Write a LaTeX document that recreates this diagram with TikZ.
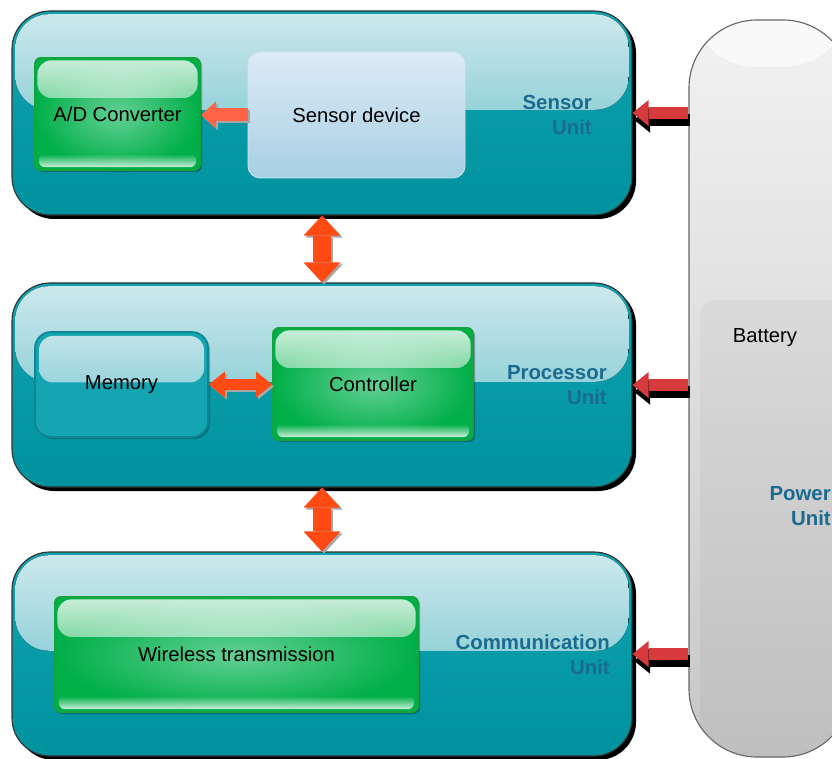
\documentclass[tikz,border=0pt]{standalone}
\usepackage{fontspec}
\setmainfont{Liberation Sans}
\usepackage{xcolor}
\usepackage{tikz}
\usetikzlibrary{positioning,shapes,arrows.meta,shadows,fadings}

\definecolor{unitTop}{HTML}{CDE9ED}
\definecolor{unitGloss}{HTML}{5CBBC5}
\definecolor{unitBase}{HTML}{0FA2AF}
\definecolor{unitBottom}{HTML}{00939F}
\definecolor{unitText}{HTML}{1A6B8E}
\definecolor{blockGreen}{HTML}{00AF48}
\definecolor{blockLight}{HTML}{63D095}
\definecolor{blockEdge}{HTML}{14A33C}
\definecolor{memTop}{HTML}{C3E5EA}
\definecolor{memGloss}{HTML}{6EC4CD}
\definecolor{memBase}{HTML}{14A4B2}
\definecolor{memEdge}{HTML}{0E8593}
\definecolor{devTop}{HTML}{DDEBF6}
\definecolor{devBottom}{HTML}{A7CFE3}
\definecolor{linkOrange}{HTML}{FF4A14}
\definecolor{convOrange}{HTML}{FF6446}
\definecolor{powerRed}{HTML}{D63A3C}
\definecolor{battTop}{HTML}{F2F2F2}
\definecolor{battBottom}{HTML}{C7C7C7}

\begin{document}
\begin{tikzpicture}[
    unit/.style={rectangle, rounded corners=0.95cm, draw=black!80, line width=0.8pt, top color=unitBase, bottom color=unitBottom, minimum width=15.5cm, minimum height=5.1cm,
        drop shadow={shadow xshift=0.1cm, shadow yshift=-0.1cm, fill=black, opacity=1},
        path picture={\fill[top color=unitTop, bottom color=unitGloss, rounded corners=0.85cm] ([shift={(0.08cm,-0.08cm)}]path picture bounding box.north west) rectangle ([shift={(-0.08cm,0.08cm)}]path picture bounding box.east);}},
    unitlabel/.style={font=\fontsize{14.5}{17.7}\selectfont\bfseries, text=unitText, align=right, anchor=east, inner sep=0pt},
    block/.style={rectangle, rounded corners=0.15cm, draw=blockEdge, line width=1.4pt, inner color=blockLight, outer color=blockGreen, font=\fontsize{14.4}{17}\selectfont,
        drop shadow={shadow xshift=0.05cm, shadow yshift=-0.05cm, fill=black, opacity=0.3},
        path picture={
            \fill[white, path fading=south, fill opacity=0.8, rounded corners=0.35cm] ([shift={(0.06cm,-0.06cm)}]path picture bounding box.north west) rectangle ([shift={(-0.06cm,-1cm)}]path picture bounding box.north east);
            \fill[white, path fading=north, fill opacity=0.8, rounded corners=0.15cm] ([shift={(0.1cm,0.07cm)}]path picture bounding box.south west) rectangle ([shift={(-0.1cm,0.4cm)}]path picture bounding box.south east);
        }},
    memory/.style={rectangle, rounded corners=0.4cm, draw=memEdge, line width=1.2pt, fill=memBase, font=\fontsize{14.4}{17}\selectfont,
        drop shadow={shadow xshift=0.05cm, shadow yshift=-0.05cm, fill=black, opacity=0.25},
        path picture={\fill[top color=memTop, bottom color=memGloss, rounded corners=0.35cm] ([shift={(0.1cm,-0.1cm)}]path picture bounding box.north west) rectangle ([shift={(-0.1cm,0.05cm)}]path picture bounding box.east);}},
    device/.style={rectangle, rounded corners=0.3cm, draw=devTop!70!devBottom, line width=0.6pt, top color=devTop, bottom color=devBottom, font=\fontsize{14.4}{17}\selectfont},
    power/.style={rectangle, rounded corners=1.7cm, draw=black!60, line width=0.8pt, top color=battTop, bottom color=battBottom, minimum width=4.05cm, minimum height=18.425cm,
        path picture={
            \fill[white, opacity=0.6] (path picture bounding box.north west) rectangle ([yshift=-1.175cm]path picture bounding box.north east);
            \fill[black, opacity=0.035, rounded corners=0.4cm] ([shift={(0.28cm,-1cm)}]path picture bounding box.south west) rectangle ([shift={(1cm,-7cm)}]path picture bounding box.north east);
        }},
    convarrow/.style={-{Triangle[width=0.675cm, length=0.375cm, line width=0pt]}, line width=0.325cm, draw=convOrange},
    linkarrow/.style={{Triangle[width=0.925cm, length=0.5cm, line width=0pt]}-{Triangle[width=0.925cm, length=0.5cm, line width=0pt]}, line width=0.45cm, draw=linkOrange},
    memarrow/.style={{Triangle[width=0.65cm, length=0.4cm, line width=0pt]}-{Triangle[width=0.65cm, length=0.4cm, line width=0pt]}, line width=0.275cm, draw=linkOrange},
    arrowshade/.style={draw=black!35, transform canvas={shift={(0.05cm,-0.05cm)}}},
    powerarrow/.style={-{Triangle[width=0.65cm, length=0.4cm, line width=0pt]}, line width=0.3cm, draw=powerRed},
    powershade/.style={draw=black, transform canvas={shift={(0.04cm,-0.17cm)}}}
]
\useasboundingbox (0,0) rectangle (20.8,18.95);

% Units
\node[unit] (sensorunit) at (8.05,16.125) {};
\node[unit] (procunit) at (8.05,9.325) {};
\node[unit] (communit) at (8.05,2.6) {};

% Blocks inside the units
\node[block, minimum width=4.125cm, minimum height=2.8cm] (adc) at (2.9375,16.1) {A/D Converter};
\node[device, minimum width=5.425cm, minimum height=3.15cm] (sensor) at (8.9125,16.075) {Sensor device};
\node[memory, minimum width=4.325cm, minimum height=2.625cm] (memory) at (3.0375,9.3375) {Memory};
\node[block, minimum width=5cm, minimum height=2.8cm] (controller) at (9.325,9.35) {Controller};
\node[block, minimum width=9.075cm, minimum height=2.875cm] (wireless) at (5.9125,2.5875) {Wireless transmission};

% Unit names
\node[unitlabel] (sensorname) at (14.8,16.075) {Sensor\\Unit};
\node[unitlabel] (procname) at (15.175,9.3125) {Processor\\Unit};
\node[unitlabel] (commname) at (15.25,2.575) {Communication\\Unit};

% Power unit
\node[power] (battery) at (19.25,9.2375) {};
\node[font=\fontsize{14.4}{17}\selectfont] (batteryname) at (19.125,10.5) {Battery};
\node[unitlabel] (powername) at (20.775,6.3) {Power\\Unit};

% Data flow
\draw[convarrow, arrowshade] (sensor.west) -- (adc.east |- sensor.west);
\draw[convarrow] (sensor.west) -- (adc.east |- sensor.west);
\draw[memarrow, arrowshade] (memory.east) -- (controller.west |- memory.east);
\draw[memarrow] (memory.east) -- (controller.west |- memory.east);
\draw[linkarrow, arrowshade] (sensorunit.south) -- (procunit.north);
\draw[linkarrow] (sensorunit.south) -- (procunit.north);
\draw[linkarrow, arrowshade] (procunit.south) -- (communit.north);
\draw[linkarrow] (procunit.south) -- (communit.north);

% Supply
\draw[powerarrow, powershade] (battery.west |- sensorunit.east) -- (sensorunit.east);
\draw[powerarrow] (battery.west |- sensorunit.east) -- (sensorunit.east);
\draw[powerarrow, powershade] (battery.west |- procunit.east) -- (procunit.east);
\draw[powerarrow] (battery.west |- procunit.east) -- (procunit.east);
\draw[powerarrow, powershade] (battery.west |- communit.east) -- (communit.east);
\draw[powerarrow] (battery.west |- communit.east) -- (communit.east);

\end{tikzpicture}
\end{document}
